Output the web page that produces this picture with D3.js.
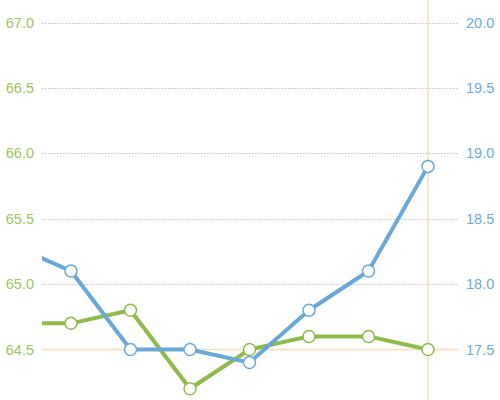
<!DOCTYPE html>
<html><head><meta charset="utf-8">
<script src="https://cdn.jsdelivr.net/npm/d3@7"></script>
<style>body{margin:0;background:#fff}svg{display:block}</style>
</head><body>
<svg id="c" width="500" height="400"></svg>
<script>
const categories = [0, 1, 2, 3, 4, 5, 6, 7];
const greenValues = [64.7, 64.7, 64.8, 64.2, 64.5, 64.6, 64.6, 64.5];
const blueValues = [18.3, 18.1, 17.5, 17.5, 17.4, 17.8, 18.1, 18.9];
const leftTicks = [64.5, 65.0, 65.5, 66.0, 66.5, 67.0];
const rightTicks = [17.5, 18.0, 18.5, 19.0, 19.5, 20.0];
const highlightIndex = 7;
const highlightValue = 64.5;

const green = "#8fbb4c", blue = "#6aa8d8", orange = "#fbdcbc";
const greenText = "#9dc55f", blueText = "#6eabd9";
const svg = d3.select("#c");
const left = 42, right = 458;
const x = d3.scaleLinear().domain([0, 7]).range([11.5, 428]);
const yL = d3.scaleLinear().domain([64.5, 67.0]).range([349.5, 22.5]);
const yR = d3.scaleLinear().domain([17.5, 20.0]).range([349.5, 22.5]);

svg.append("defs").append("clipPath").attr("id", "clip")
  .append("rect").attr("x", left).attr("y", 0).attr("width", right - left).attr("height", 400);

// grid
const grid = svg.append("g");
leftTicks.forEach(t => {
  if (t === highlightValue) return;
  grid.append("line").attr("x1", left).attr("x2", right)
    .attr("y1", Math.round(yL(t)) + 0.5).attr("y2", Math.round(yL(t)) + 0.5)
    .attr("stroke", "#c4c4c4").attr("stroke-width", 1).attr("stroke-dasharray", "1.5,1.5");
});

// crosshair
svg.append("line").attr("x1", left).attr("x2", right)
  .attr("y1", yL(highlightValue)).attr("y2", yL(highlightValue))
  .attr("stroke", orange).attr("stroke-width", 1.5);
svg.append("line").attr("x1", x(highlightIndex)).attr("x2", x(highlightIndex))
  .attr("y1", 0).attr("y2", 400)
  .attr("stroke", orange).attr("stroke-width", 1.5);

// axes labels
const font = "Helvetica, 'Liberation Sans', Arial, sans-serif";
const axL = d3.axisLeft(yL).tickValues(leftTicks).tickFormat(d3.format(".1f")).tickSize(0).tickPadding(0);
const gL = svg.append("g").attr("transform", `translate(34,0)`).call(axL);
gL.select(".domain").remove();
gL.selectAll("text").attr("fill", greenText).style("font-family", font).style("font-size", "14.5px");

const axR = d3.axisRight(yR).tickValues(rightTicks).tickFormat(d3.format(".1f")).tickSize(0).tickPadding(0);
const gR = svg.append("g").attr("transform", `translate(466,0)`).call(axR);
gR.select(".domain").remove();
gR.selectAll("text").attr("fill", blueText).style("font-family", font).style("font-size", "14.5px");

// series
function drawSeries(vals, y, color) {
  const g = svg.append("g").attr("clip-path", "url(#clip)");
  const line = d3.line().x((d, i) => x(categories[i])).y(d => y(d));
  g.append("path").datum(vals).attr("d", line).attr("fill", "none")
    .attr("stroke", color).attr("stroke-width", 4).attr("stroke-linejoin", "round");
  g.selectAll("circle").data(vals).join("circle")
    .attr("cx", (d, i) => x(categories[i])).attr("cy", d => y(d)).attr("r", 6)
    .attr("fill", "#fff").attr("stroke", color).attr("stroke-width", 1.5);
}
drawSeries(greenValues, yL, green);
drawSeries(blueValues, yR, blue);
</script>
</body></html>
